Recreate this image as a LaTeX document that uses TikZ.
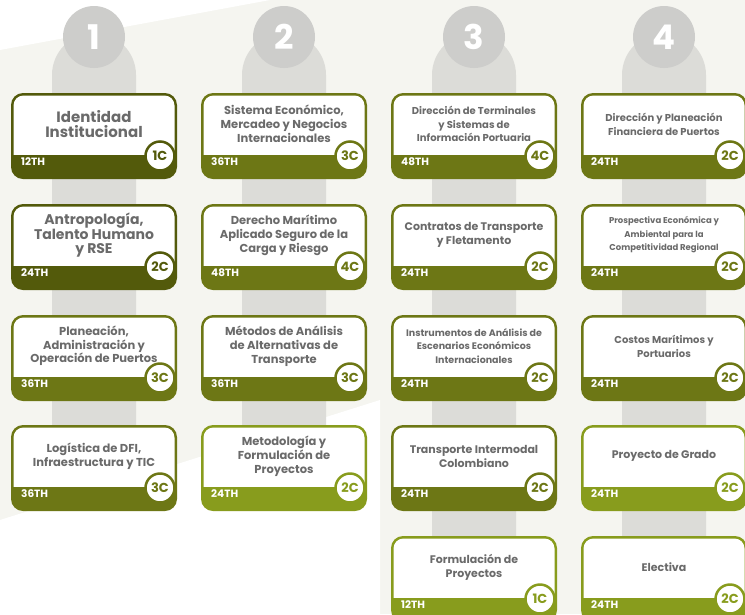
\documentclass[tikz,border=0pt]{standalone}
\usepackage{fontspec}
\setmainfont{Poppins}
\usetikzlibrary{positioning}
\definecolor{oscuro}{HTML}{535A0B}
\definecolor{medio}{HTML}{6D7715}
\definecolor{claro}{HTML}{889C1D}
\definecolor{gristexto}{HTML}{6A6A6A}
\definecolor{barra}{HTML}{DCDCD8}
\definecolor{circulo}{HTML}{CDCDCB}
\definecolor{fondo}{HTML}{F5F5F0}
\tikzset{card/.style={rectangle, rounded corners=12pt, minimum width=166pt, minimum height=86pt, inner sep=0pt, outer sep=0pt},
  titulo/.style={align=center, text=gristexto, inner sep=0pt},
  horas/.style={text=white, font=\bfseries\fontsize{10.5}{11}\selectfont, anchor=west, inner sep=0pt},
  creditos/.style={circle, fill=white, line width=2.5pt, minimum size=29pt, inner sep=0pt, font=\bfseries\fontsize{13}{13}\selectfont},
  numero/.style={circle, fill=circulo, minimum size=62pt, inner sep=0pt, text=white, font=\bfseries\fontsize{34}{34}\selectfont}}
% #1 nombre, #2 x, #3 y, #4 color, #5 letra, #6 titulo, #7 horas, #8 creditos
\newcommand{\asignatura}[8]{%
\node[card, fill=#4, anchor=north west] (#1) at (#2,#3) {};
\begin{scope}
\clip ([shift={(2.5pt,-2.5pt)}]#1.north west) rectangle ([shift={(-2.5pt,-61pt)}]#1.north east);
\fill[white, rounded corners=10pt] ([shift={(2.5pt,-2.5pt)}]#1.north west) rectangle ([shift={(-2.5pt,2.5pt)}]#1.south east);
\end{scope}
\node[titulo, font=\bfseries#5] (#1-t) at ([yshift=-31pt]#1.north) {#6};
\node[horas] (#1-h) at ([shift={(10pt,-69pt)}]#1.north west) {#7};
\node[creditos, draw=#4, text=#4] (#1-c) at ([shift={(-17pt,-63pt)}]#1.north east) {#8};
}

\begin{document}
\begin{tikzpicture}[x=1pt,y=-1pt]
\useasboundingbox (0,0) rectangle (745,614);
\clip (0,0) rectangle (745,614);
\fill[fondo] (0,0) rectangle (745,614);
\fill[white] (0,0) -- (270,0) -- (0,50) -- cycle;
\fill[white] (0,520) -- (380,400) -- (380,614) -- (0,614) -- cycle;
% barras y numeros
\foreach \x/\b in {94/470, 284/470, 474/660, 664/660}
  \fill[barra, rounded corners=42pt] (\x-42,33) rectangle (\x+42,\b);
\node[numero] (n1) at (94,37) {1};
\node[numero] (n2) at (284,37) {2};
\node[numero] (n3) at (474,37) {3};
\node[numero] (n4) at (664,37) {4};
% semestre 1
\asignatura{a11}{11}{93}{oscuro}{\fontsize{15}{14.5}\selectfont}{Identidad\\Institucional}{12TH}{1C}
\asignatura{a12}{11}{204}{oscuro}{\fontsize{14}{14}\selectfont}{Antropología,\\Talento Humano\\y RSE}{24TH}{2C}
\asignatura{a13}{11}{315}{medio}{\fontsize{11.5}{13.5}\selectfont}{Planeación,\\Administración y\\Operación de Puertos}{36TH}{3C}
\asignatura{a14}{11}{425}{medio}{\fontsize{11.5}{14}\selectfont}{Logística de DFI,\\Infraestructura y TIC}{36TH}{3C}
% semestre 2
\asignatura{a21}{201}{93}{medio}{\fontsize{11.5}{14}\selectfont}{Sistema Económico,\\Mercadeo y Negocios\\Internacionales}{36TH}{3C}
\asignatura{a22}{201}{204}{medio}{\fontsize{11.5}{14}\selectfont}{Derecho Marítimo\\Aplicado Seguro de la\\Carga y Riesgo}{48TH}{4C}
\asignatura{a23}{201}{315}{medio}{\fontsize{11.5}{14}\selectfont}{Métodos de Análisis\\de Alternativas de\\Transporte}{36TH}{3C}
\asignatura{a24}{201}{425}{claro}{\fontsize{11.5}{14}\selectfont}{Metodología y\\Formulación de\\Proyectos}{24TH}{2C}
% semestre 3
\asignatura{a31}{391}{93}{medio}{\fontsize{10}{13.5}\selectfont}{Dirección de Terminales\\y Sistemas de\\Información Portuaria}{48TH}{4C}
\asignatura{a32}{391}{204}{medio}{\fontsize{11}{14}\selectfont}{Contratos de Transporte\\y Fletamento}{24TH}{2C}
\asignatura{a33}{391}{315}{medio}{\fontsize{9.5}{13.5}\selectfont}{Instrumentos de Análisis de\\Escenarios Económicos\\Internacionales}{24TH}{2C}
\asignatura{a34}{391}{425}{medio}{\fontsize{11}{14}\selectfont}{Transporte Intermodal\\Colombiano}{24TH}{2C}
\asignatura{a35}{391}{536}{claro}{\fontsize{11}{14}\selectfont}{Formulación de\\Proyectos}{12TH}{1C}
% semestre 4
\asignatura{a41}{581}{93}{medio}{\fontsize{10}{14}\selectfont}{Dirección y Planeación\\Financiera de Puertos}{24TH}{2C}
\asignatura{a42}{581}{204}{medio}{\fontsize{8.5}{13.5}\selectfont}{Prospectiva Económica y\\Ambiental para la\\Competitividad Regional}{24TH}{2C}
\asignatura{a43}{581}{315}{medio}{\fontsize{10}{14}\selectfont}{Costos Marítimos y\\Portuarios}{24TH}{2C}
\asignatura{a44}{581}{425}{claro}{\fontsize{11}{14}\selectfont}{Proyecto de Grado}{24TH}{2C}
\asignatura{a45}{581}{536}{claro}{\fontsize{11}{14}\selectfont}{Electiva}{24TH}{2C}
\end{tikzpicture}
\end{document}
